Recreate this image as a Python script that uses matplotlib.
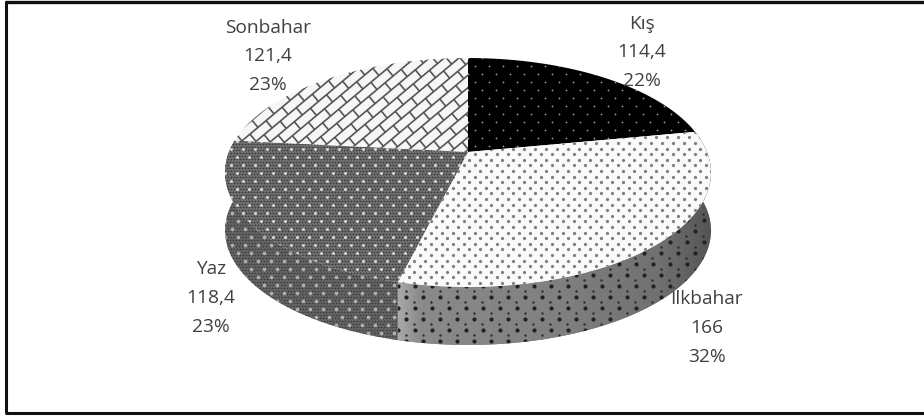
#!/usr/bin/env python3
"""3D-look pie of seasonal values, with patterned slices, drawn in pixel coordinates."""
import numpy as np
import matplotlib
matplotlib.use('Agg')
import matplotlib.pyplot as plt
from matplotlib.collections import LineCollection
from matplotlib.patches import Polygon

seasons = ['Kış', 'İlkbahar', 'Yaz', 'Sonbahar']
values = [114.4, 166, 118.4, 121.4]
percents = ['22%', '32%', '23%', '23%']

W, H = 924, 417
CX, CY = 468, 152      # pie centre as seen in perspective
A, B, K = 239, 110.8, 0.179
DEPTH = 58
TEXT_C = '#404040'

label_xy = {'Kış': (642, 52), 'İlkbahar': (707, 328), 'Yaz': (211, 298), 'Sonbahar': (268, 56)}
LINE_GAP = 28.5

plt.rcParams['font.family'] = ['Open Sans', 'DejaVu Sans']


def project(deg):
    """Unit circle angle -> picture pixels, with simple perspective."""
    t = np.radians(deg)
    u, v = np.cos(t), np.sin(t)
    w = 1 + K * v
    return np.column_stack([CX + A * u / w, CY - B * v / w])


def arc(a0, a1):
    return project(np.linspace(a0, a1, max(int(abs(a1 - a0)) * 2, 2)))


def top_poly(a0, a1, fc):
    pts = np.vstack([[[CX, CY]], arc(a0, a1)])
    p = Polygon(pts, closed=True, facecolor=fc, edgecolor='none', zorder=3)
    ax.add_patch(p)
    return p


def wall_poly(a0, a1, fc):
    top = arc(a0, a1)
    low = top[::-1] + [0, DEPTH]
    p = Polygon(np.vstack([top, low]), closed=True, facecolor=fc, edgecolor='none', zorder=2)
    ax.add_patch(p)
    return p


def dots(patch, dx, dy, size, color, stagger=True, off=(0, 0)):
    x0, y0, x1, y1 = patch.get_path().get_extents().extents
    xs, ys = [], []
    for i, y in enumerate(np.arange(y0 + off[1], y1 + dy, dy)):
        shift = dx / 2 if (stagger and i % 2) else 0
        row = np.arange(x0 + off[0] + shift, x1 + dx, dx)
        xs.append(row)
        ys.append(np.full(row.shape, y))
    sc = ax.scatter(np.concatenate(xs), np.concatenate(ys), s=size, c=color,
                    linewidths=0, zorder=patch.get_zorder() + 0.1)
    sc.set_clip_path(patch)


def bricks(patch, gap, step, color):
    """Diagonal brick pattern: long courses up to the right, short staggered joints."""
    ang = np.radians(40)
    ex, ey = np.cos(ang), -np.sin(ang)
    nx, ny = -ey, ex
    segs = []
    for i in range(-40, 41):
        ox, oy = CX + nx * gap * i, 100 + ny * gap * i
        segs.append([(ox - ex * 400, oy - ey * 400), (ox + ex * 400, oy + ey * 400)])
        for j in range(-40, 41):
            s = step * (j + (i % 2) / 2)
            sx, sy = ox + ex * s, oy + ey * s
            segs.append([(sx, sy), (sx + nx * gap, sy + ny * gap)])
    lc = LineCollection(segs, colors=color, linewidths=1.2, zorder=patch.get_zorder() + 0.1)
    ax.add_collection(lc)
    lc.set_clip_path(patch)


def shade(patch, xs, grays):
    """Horizontal gray gradient filling a patch."""
    x0, y0, x1, y1 = patch.get_path().get_extents().extents
    col = np.interp(np.linspace(x0, x1, 256), xs, grays)[None, :]
    im = ax.imshow(col, extent=(x0, x1, y1, y0), cmap='gray', vmin=0, vmax=1,
                   aspect='auto', zorder=patch.get_zorder() + 0.05)
    im.set_clip_path(patch)


fig = plt.figure(figsize=(W / 100, H / 100), dpi=100)
ax = fig.add_axes([0, 0, 1, 1])

# slice angles, clockwise from twelve o'clock
total = sum(values)
edges = 90 - np.cumsum([0] + values) / total * 360
kis, ilk, yaz, son = [(edges[i], edges[i + 1]) for i in range(4)]

# side walls
yaz_wall = wall_poly(yaz[0], yaz[1], '#6a6a6a')
dots(yaz_wall, 3, 3, 2.2, '#404040')
dots(yaz_wall, 13, 8, 7, '#b0b0b0')
ilk_wall = wall_poly(max(ilk[0], -60), ilk[1], '#808080')
shade(ilk_wall, [398, 420, 560, 660, 711], [0.66, 0.54, 0.50, 0.44, 0.33])
dots(ilk_wall, 17, 11, 9, '#222222')
dots(ilk_wall, 17, 11, 3, '#2c2c2c', off=(8, 5))

# top surfaces
p_kis = top_poly(kis[0], kis[1], '#000000')
dots(p_kis, 14, 8, 1.6, '#a0a0a0')

p_ilk = top_poly(ilk[0], ilk[1], '#fafafa')
dots(p_ilk, 11, 5.6, 5.5, '#808080')

p_yaz = top_poly(yaz[0], yaz[1], '#787878')
dots(p_yaz, 3, 3, 2.2, '#404040')
dots(p_yaz, 12, 8, 5, '#d4d4d4')

p_son = top_poly(son[0], son[1], '#f6f6f6')
bricks(p_son, 9.5, 21, '#555555')

# labels
for name, val, pct in zip(seasons, values, percents):
    x, y = label_xy[name]
    lines = [name, f'{val:g}'.replace('.', ','), pct]
    for i, line in enumerate(lines):
        ax.text(x, y + (i - 1) * LINE_GAP, line, fontsize=13.8, color=TEXT_C,
                ha='center', va='center', zorder=6)

# frame: left, top and bottom only
ax.plot([6, 6], [1, 413], color='#111111', lw=2.2, zorder=7, solid_capstyle='butt')
ax.plot([5, W], [1.5, 1.5], color='#111111', lw=2.4, zorder=7, solid_capstyle='butt')
ax.plot([5, W], [413, 413], color='#111111', lw=2.2, zorder=7, solid_capstyle='butt')

ax.set_xlim(0, W)
ax.set_ylim(H, 0)
ax.axis('off')
fig.savefig('out.png', dpi=100)
